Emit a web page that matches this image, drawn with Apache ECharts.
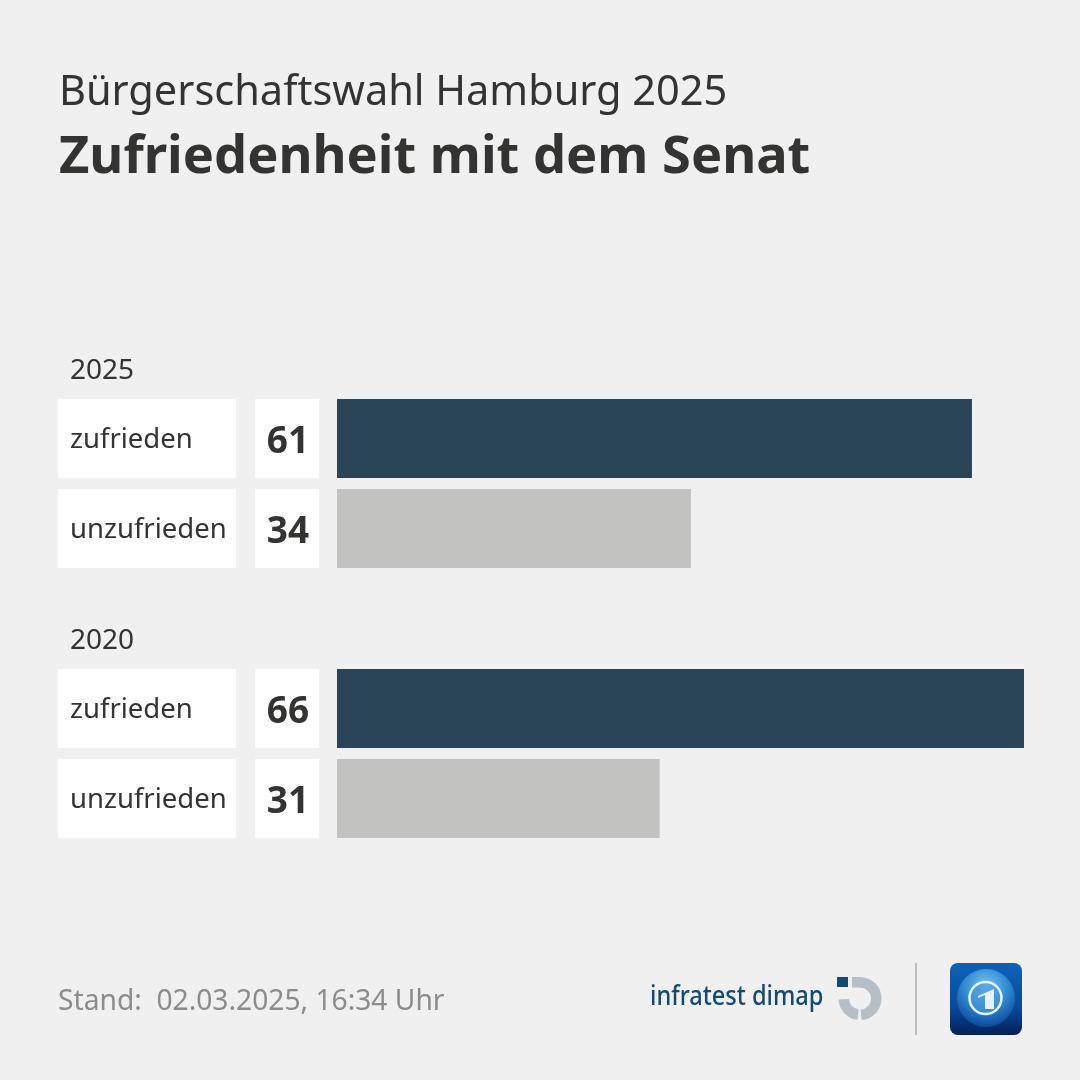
<!DOCTYPE html>
<html>
<head>
<meta charset="utf-8">
<style>
  html, body { margin: 0; padding: 0; background: #f0f0f0; }
  #chart { width: 1080px; height: 1080px; }
</style>
<script src="https://cdn.jsdelivr.net/npm/echarts@6/dist/echarts.min.js"></script>
</head>
<body>
<div id="chart"></div>
<script>
var years = ['2025', '2020'];
var answers = ['zufrieden', 'unzufrieden'];
var values2025 = [61, 34];
var values2020 = [66, 31];

var FONT = '"Noto Sans", sans-serif';
var TEXT = '#333331';
var answerColors = { zufrieden: '#2a4558', unzufrieden: '#c2c2c0' };

// one header row per year, then its answers
var labels = [years[0]].concat(answers, years[1], answers);
var values = [null].concat(values2025, null, values2020);
var boxes = values.map(function (v) { return v === null ? null : 1; });

var rowTop = 303.5, rowsHeight = 540, barHeight = 79;

function yAxisFor(i, showLabels) {
  return {
    type: 'category', gridIndex: i, inverse: true, data: labels,
    axisLine: { show: false }, axisTick: { show: false }, splitLine: { show: false },
    axisLabel: showLabels ? {
      inside: true, margin: 12, z: 5,
      formatter: function (name) {
        return years.indexOf(name) >= 0 ? '{year|' + name + '}' : '{answer|' + name + '}';
      },
      rich: {
        year: { fontFamily: FONT, fontSize: 28, color: TEXT, padding: [45, 0, 0, 0] },
        answer: { fontFamily: FONT, fontSize: 27.5, color: TEXT, padding: [4, 0, 0, 0] }
      }
    } : { show: false },
    z: 5
  };
}

function xAxisFor(i, max) {
  return { type: 'value', gridIndex: i, min: 0, max: max, show: false };
}

var chart = echarts.init(document.getElementById('chart'));
chart.setOption({
  animation: false,
  backgroundColor: '#f0f0f0',
  title: [
    { text: 'Bürgerschaftswahl Hamburg 2025', left: 54, top: 67,
      textStyle: { fontFamily: FONT, fontSize: 41.5, fontWeight: 'normal', color: TEXT } },
    { text: 'Zufriedenheit mit dem Senat', left: 54, top: 127,
      textStyle: { fontFamily: FONT, fontSize: 52.4, fontWeight: 'bold', color: TEXT } },
    { text: 'Stand:  02.03.2025, 16:34 Uhr', left: 53, top: 983,
      textStyle: { fontFamily: FONT, fontSize: 28.2, fontWeight: 'normal', color: '#8c8c8c' } }
  ],
  grid: [
    { left: 58, top: rowTop, width: 178, height: rowsHeight },
    { left: 255, top: rowTop, width: 64, height: rowsHeight },
    { left: 337, top: rowTop, width: 687, height: rowsHeight }
  ],
  xAxis: [xAxisFor(0, 1), xAxisFor(1, 1), xAxisFor(2, 66)],
  yAxis: [yAxisFor(0, true), yAxisFor(1, false), yAxisFor(2, false)],
  series: [
    { type: 'bar', xAxisIndex: 0, yAxisIndex: 0, barWidth: barHeight, silent: true,
      data: boxes, itemStyle: { color: '#ffffff' } },
    { type: 'bar', xAxisIndex: 1, yAxisIndex: 1, barWidth: barHeight, silent: true,
      data: boxes, itemStyle: { color: '#ffffff' },
      label: {
        show: true, position: 'inside', offset: [1, 4], fontFamily: FONT, fontSize: 37, fontWeight: 'bold', color: TEXT,
        formatter: function (p) { return values[p.dataIndex]; }
      } },
    { type: 'bar', xAxisIndex: 2, yAxisIndex: 2, barWidth: barHeight, silent: true,
      data: values,
      itemStyle: { color: function (p) { return answerColors[labels[p.dataIndex]]; } } }
  ],
  graphic: [
    { type: 'text', x: 650, y: 984, scaleX: 0.875, style: { text: 'infratest dimap', fontFamily: FONT, fontSize: 27, fontWeight: 500, fill: '#124a73' } },
    { type: 'rect', shape: { x: 837, y: 977, width: 11, height: 10 }, style: { fill: '#124a73' } },
    { type: 'sector', shape: { cx: 860, cy: 998.5, r0: 11, r: 21.5, startAngle: -Math.PI / 2, endAngle: Math.PI / 2 - 0.07 }, style: { fill: '#b5bfc5' } },
    { type: 'sector', shape: { cx: 860, cy: 998.5, r0: 11, r: 21.5, startAngle: Math.PI / 2 + 0.12, endAngle: Math.PI - 0.05 }, style: { fill: '#b5bfc5' } },
    { type: 'rect', shape: { x: 852, y: 977, width: 8, height: 10.5 }, style: { fill: '#b5bfc5' } },
    { type: 'rect', shape: { x: 915, y: 963, width: 2, height: 72 }, style: { fill: '#bdbdbd' } },
    { type: 'rect', shape: { x: 950, y: 963, width: 72, height: 72, r: 8 }, style: {
      fill: new echarts.graphic.LinearGradient(0, 0, 0, 1, [
        { offset: 0, color: '#0d62b8' }, { offset: 0.6, color: '#0a4a9c' }, { offset: 1, color: '#04205a' }
      ]) } },
    { type: 'circle', shape: { cx: 986, cy: 998, r: 29 }, style: {
      fill: new echarts.graphic.RadialGradient(0.5, 0.3, 0.75, [
        { offset: 0, color: '#7cc2ec' }, { offset: 0.5, color: '#2f8bd4' }, { offset: 1, color: '#0a3f90' }
      ]) } },
    { type: 'circle', shape: { cx: 985.5, cy: 998, r: 16 }, style: { fill: 'rgba(70,150,215,0.55)', stroke: '#e6f3fb', lineWidth: 2.5 } },
    { type: 'polygon', shape: { points: [[978, 996], [994, 989], [994, 1009], [985, 1009], [985, 995], [978, 998]] }, style: { fill: '#e6f1f8' } }
  ]
});
</script>
</body>
</html>
